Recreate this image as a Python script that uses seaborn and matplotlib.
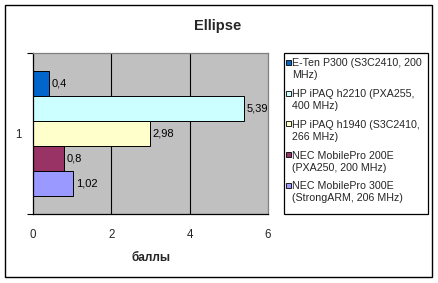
import matplotlib
matplotlib.use("Agg")
import matplotlib.pyplot as plt
import seaborn as sns
import pandas as pd
from matplotlib.patches import Rectangle
from matplotlib.ticker import FixedLocator

categories = ["1"]
series = [
    "E-Ten P300 (S3C2410, 200\nMHz)",
    "HP iPAQ h2210 (PXA255,\n400 MHz)",
    "HP iPAQ h1940 (S3C2410,\n266 MHz)",
    "NEC MobilePro 200E\n(PXA250, 200 MHz)",
    "NEC MobilePro 300E\n(StrongARM, 206 MHz)",
]
values = [0.4, 5.39, 2.98, 0.8, 1.02]
colors = ["#0066CC", "#CCFFFF", "#FFFFCC", "#993366", "#9999FF"]
title = "Ellipse"
xlabel = "баллы"
xticks = [0, 2, 4, 6]

sns.set_style("white")
plt.rcParams["font.family"] = ["Liberation Sans", "DejaVu Sans"]

W, H = 438, 283
fig = plt.figure(figsize=(W / 100, H / 100), dpi=100)
fig.patch.set_facecolor("white")

def fx(px):
    return px / W

def fy(py):
    return 1 - py / H

ax = fig.add_axes([fx(33), fy(214), fx(268) - fx(33), fy(53) - fy(214)])
ax.set_facecolor("#C0C0C0")

df = pd.DataFrame({
    "cat": categories * len(series),
    "series": series,
    "value": values,
})

sns.barplot(data=df, x="value", y="cat", hue="series", hue_order=series,
            palette=colors, orient="h", width=0.78, saturation=1,
            edgecolor="black", linewidth=0.7, legend=False, ax=ax, zorder=3)

for cont, v in zip(ax.containers, values):
    ax.bar_label(cont, labels=[f"{v:g}".replace(".", ",")], padding=2,
                 fontsize=8, color="black")

ax.set_xlim(0, 6)
ax.set_ylim(0.5, -0.5)
ax.set_xticks(xticks)
ax.set_xticklabels([str(t) for t in xticks], fontsize=8.3)
ax.tick_params(axis="x", direction="out", length=4, width=0.8, color="black", pad=7)
ax.set_yticks([0])
ax.set_yticklabels(categories, fontsize=8.3)
ax.tick_params(axis="y", which="major", length=0, pad=8)
ax.yaxis.set_minor_locator(FixedLocator([-0.5, 0.5]))
ax.tick_params(axis="y", which="minor", direction="out", length=4, width=0.8, color="black", left=True)

ax.grid(axis="x", color="black", linewidth=0.8, zorder=1)
ax.set_axisbelow(True)
gl = ax.get_xgridlines()
gl[0].set_visible(False)
gl[-1].set_visible(False)
ax.grid(axis="y", visible=False)

for s in ["left", "bottom"]:
    ax.spines[s].set_color("black")
    ax.spines[s].set_linewidth(0.9)
for s in ["top", "right"]:
    ax.spines[s].set_color("#808080")
    ax.spines[s].set_linewidth(0.9)
for s in ax.spines.values():
    s.set_zorder(5)

ax.set_xlabel(xlabel, fontsize=8.5, fontweight="bold", labelpad=8)
ax.set_ylabel("")

fig.text(fx(218), fy(26), title, ha="center", va="center", fontsize=10.5, fontweight="bold")

# Legend box
fig.patches.append(Rectangle((fx(284), fy(214)), fx(428) - fx(284), fy(53) - fy(214),
                             transform=fig.transFigure, facecolor="white",
                             edgecolor="black", linewidth=0.9))
for i, (lab, c) in enumerate(zip(series, colors)):
    yc = 62.3 + i * 30.75
    fig.patches.append(Rectangle((fx(285.5), fy(yc + 2.5)), fx(5), 5 / H,
                                 transform=fig.transFigure, facecolor=c,
                                 edgecolor="black", linewidth=0.6))
    fig.text(fx(292), fy(yc + 7), lab, ha="left", va="center", fontsize=7.7,
             linespacing=1.25)

# Outer border
fig.patches.append(Rectangle((fx(5), fy(277)), fx(432) - fx(5), fy(5) - fy(277),
                             transform=fig.transFigure, facecolor="none",
                             edgecolor="black", linewidth=1.0))

fig.savefig("out.png", dpi=100)
